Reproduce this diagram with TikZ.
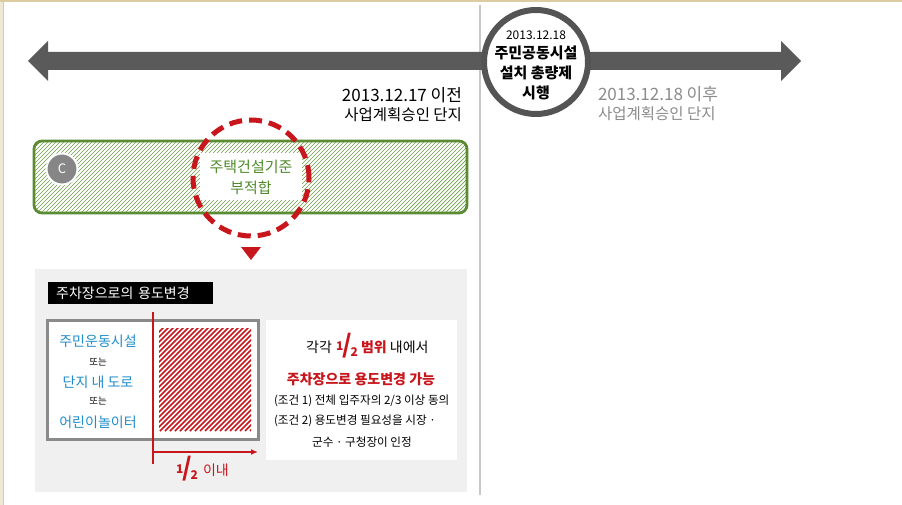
\documentclass[tikz,border=0pt]{standalone}
\usepackage{fontspec}
\usetikzlibrary{arrows.meta}
\setmainfont{Noto Sans CJK KR}
\definecolor{arrowgray}{HTML}{5A5A5A}
\definecolor{ringgray}{HTML}{545454}
\definecolor{vlinegray}{HTML}{C8C8C8}
\definecolor{barGreen}{HTML}{5B8B33}
\definecolor{hatchGreen}{HTML}{6E9E48}
\definecolor{txtGreen}{HTML}{4F8A2B}
\definecolor{myRed}{HTML}{C8161D}
\definecolor{myBlue}{HTML}{1F8DCB}
\definecolor{panelGray}{HTML}{F0F0F0}
\definecolor{boxGray}{HTML}{8A8A8A}
\definecolor{txtGray}{HTML}{8C8C8C}
\definecolor{frameBeige}{HTML}{EFE8D6}
\definecolor{frameLine}{HTML}{DCCB9E}
\newcommand{\halfmark}{{\bfseries\raisebox{0.36em}{\fontsize{12}{12}\selectfont 1}\kern-0.10em{\fontsize{25}{25}\selectfont /}\kern-0.14em\raisebox{-0.30em}{\fontsize{12}{12}\selectfont 2}}}
\tikzset{
  txt/.style={inner sep=0pt, outer sep=0pt},
  bluetxt/.style={txt, text=myBlue, font=\fontsize{14}{16}\selectfont},
  smalltxt/.style={txt, font=\fontsize{9.5}{11}\selectfont},
}
\begin{document}
\begin{tikzpicture}[x=1pt,y=-1pt]
\useasboundingbox (0,0) rectangle (902,505);
\fill[white] (0,0) rectangle (902,505);
% frame
\fill[frameBeige] (0,0) rectangle (3,505);
\draw[frameLine, line width=1.2pt] (3.6,0) -- (3.6,505);
\draw[frameLine, line width=1.4pt] (0,1) -- (902,1);
% vertical divider
\coordinate (vtop) at (480,5);
\coordinate (vbot) at (480,495);
\draw[vlinegray, line width=1.5pt] (vtop) -- (vbot);
% double arrow
\fill[arrowgray] (28,61) -- (48,41) -- (48,52) -- (781,52) -- (781,41) -- (801,61) -- (781,81) -- (781,70) -- (48,70) -- (48,81) -- cycle;
% circle
\node[circle, draw=ringgray, line width=6pt, fill=white, minimum size=104pt, inner sep=0pt] (circ) at (536,62) {};
\node[txt, font=\fontsize{12}{14}\selectfont] (c1) at (536,35) {2013.12.18};
\node[txt, font=\bfseries\fontsize{15}{18}\selectfont] (c2) at (536,53) {주민공동시설};
\node[txt, font=\bfseries\fontsize{15}{18}\selectfont] (c3) at (536,73) {설치 총량제};
\node[txt, font=\bfseries\fontsize{15}{18}\selectfont] (c4) at (536,93) {시행};
% left/right labels
\node[txt, anchor=east, font=\fontsize{17}{18}\selectfont] (l1) at (462,95) {2013.12.17 이전};
\node[txt, anchor=east, font=\fontsize{15.5}{18}\selectfont] (l2) at (462,115) {사업계획승인 단지};
\node[txt, anchor=west, text=txtGray, font=\fontsize{17}{18}\selectfont] (r1) at (598,94) {2013.12.18 이후};
\node[txt, anchor=west, text=txtGray, font=\fontsize{15.5}{18}\selectfont] (r2) at (598,114) {사업계획승인 단지};
% green hatched bar
\fill[white, rounded corners=8pt] (34,141) rectangle (467,213);
\begin{scope}
  \clip[rounded corners=8pt] (34,141) rectangle (467,213);
  \foreach \i in {-40,-36,...,470} {
    \draw[hatchGreen, line width=0.7pt] (\i,214) -- ++(74,-74);
  }
\end{scope}
\draw[barGreen, line width=2.8pt, rounded corners=8pt] (34,141) rectangle (467,213);
\node[circle, fill=gray!95, draw=white, line width=2pt, minimum size=31pt, inner sep=0pt, text=white, font=\fontsize{13}{14}\selectfont] (cc) at (62,169) {C};
\fill[white] (200,153) rectangle (302,200);
\node[txt, text=txtGreen, font=\fontsize{15}{18}\selectfont] (g1) at (251,167) {주택건설기준};
\node[txt, text=txtGreen, font=\fontsize{15}{18}\selectfont] (g2) at (251,188) {부적합};
% red dashed circle
\node[circle, draw=myRed, line width=5pt, dash pattern=on 13pt off 7pt, minimum size=116pt, inner sep=0pt] (rc) at (251,178) {};
\fill[myRed] (241,247) -- (261,247) -- (251,260) -- cycle;
% lower panel
\fill[panelGray] (35,269) rectangle (467,492);
\node[fill=black, text=white, anchor=north west, minimum width=165pt, minimum height=22pt, inner sep=0pt, text width=153pt, font=\fontsize{14}{15}\selectfont] (lab) at (48,282) {\hspace{2pt}주차장으로의 용도변경};
% gray box
\draw[boxGray, line width=3pt, fill=white] (47,320) rectangle (258,439);
\node[bluetxt] (b1) at (98,341) {주민운동시설};
\node[smalltxt] (o1) at (98,362) {또는};
\node[bluetxt] (b2) at (98,382) {단지 내 도로};
\node[smalltxt] (o2) at (98,401) {또는};
\node[bluetxt] (b3) at (98,422) {어린이놀이터};
% red hatch square
\begin{scope}
  \clip (159,328) rectangle (251,431);
  \foreach \i in {55,60,...,255} {
    \draw[myRed, line width=1.6pt] (\i,431) -- ++(104,-104);
  }
\end{scope}
% red measure lines
\coordinate (rvtop) at (153,312);
\coordinate (rvbot) at (153,464);
\coordinate (rastart) at (153,452);
\coordinate (raend) at (258,452);
\draw[myRed, line width=2.4pt] (rvtop) -- (rvbot);
\draw[myRed, line width=1.4pt, -{Latex[length=7pt,width=6pt]}] (rastart) -- (raend);
\node[txt, text=myRed, anchor=center] (half1) at (187,469) {\halfmark};
\node[txt, text=myRed, anchor=west, font=\fontsize{14}{15}\selectfont] (inae) at (203,470) {이내};
% right white box
\fill[white] (266,320) rectangle (457,460);
\node[txt, anchor=east, font=\fontsize{14}{15}\selectfont] (t1a) at (332,347) {각각};
\node[txt, text=myRed, anchor=center] (t1h) at (347,346) {\halfmark};
\node[txt, anchor=west, font=\fontsize{14}{15}\selectfont] (t1b) at (361,347) {{\color{myRed}\bfseries 범위} 내에서};
\node[txt, text=myRed, font=\bfseries\fontsize{14}{15}\selectfont] (t2) at (361,379) {주차장으로 용도변경 가능};
\node[txt, anchor=west, font=\fontsize{11.6}{12}\selectfont] (t3) at (274,401) {(조건 1) 전체 입주자의 2/3 이상 동의};
\node[txt, anchor=west, font=\fontsize{11.6}{12}\selectfont] (t4) at (274,421) {(조건 2) 용도변경 필요성을 시장 ·};
\node[txt, font=\fontsize{11.6}{12}\selectfont] (t5) at (362,442) {군수 · 구청장이 인정};
\end{tikzpicture}
\end{document}
